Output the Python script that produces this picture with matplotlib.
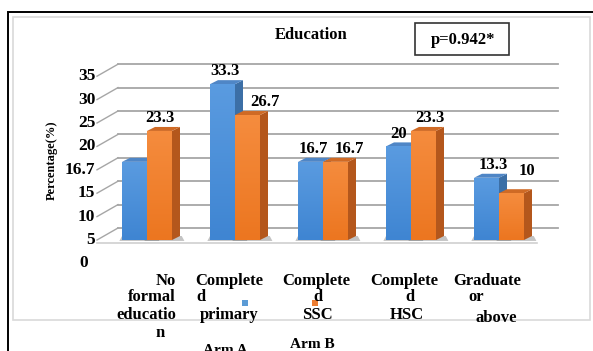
import matplotlib.pyplot as plt
from matplotlib.patches import Polygon, Rectangle
from matplotlib.colors import LinearSegmentedColormap
import numpy as np

# data
categories = ["No\nformal\neducatio\nn", "Complete\nd\nprimary", "Complete\nd\nSSC",
              "Complete\nd\nHSC", "Graduate\nor\nabove"]
arm_a = [16.7, 33.3, 16.7, 20, 13.3]
arm_b = [23.3, 26.7, 16.7, 23.3, 10]
grid_vals = [0, 5, 10, 15, 20, 25, 30, 35]
tick_text = ["5", "10", "15", "16.7", "20", "25", "30", "35"]

W, H = 593, 351
fig = plt.figure(figsize=(W / 100, H / 100), dpi=100)
ax = fig.add_axes([0, 0, 1, 1])
ax.axis("off")

# pixel layout -> data scales
x0_px, step_px = 147, 88          # first group centre, group spacing
y0_px, unit_px = 240, 4.68        # front floor, px per percent
ax.set_xlim(-x0_px / step_px, (W - x0_px) / step_px)
ax.set_ylim(-(H - y0_px) / unit_px, y0_px / unit_px)

def fx(px):
    return px / W

def fy(py):
    return 1 - py / H

serif = "Liberation Serif"
gcol = "#a6a6a6"

# frames
fig.add_artist(Rectangle((fx(8), -0.05), 1, fy(12) + 0.05, transform=fig.transFigure,
                         fill=False, ec="black", lw=1.4))
fig.add_artist(Rectangle((fx(13), fy(320)), fx(590) - fx(13), fy(17) - fy(320),
                         transform=fig.transFigure, fill=False, ec="#d9d9d9", lw=1.2))

# back wall gridlines + diagonals
wdx = 21 / step_px
wdy = 12 / unit_px
xl = (97 - x0_px) / step_px
xr_back = (558 - x0_px) / step_px
xr_front = (537 - x0_px) / step_px
for v in grid_vals:
    ax.plot([xl + wdx, xr_back], [v + wdy, v + wdy], color=gcol, lw=1.3, zorder=1)
    ax.plot([xl, xl + wdx], [v, v + wdy], color=gcol, lw=1.0, zorder=1)
ax.plot([xl, xr_front], [-0.6, -0.6], color="#d0d0d0", lw=1.2, zorder=1)

for v, t in zip(grid_vals, tick_text):
    ax.text(xl - 0.02, v, t, ha="right", va="center", fontsize=12.5, fontweight="bold",
            family=serif, zorder=7)
ax.text(xl - 0.1, -5, "0", ha="right", va="center", fontsize=12.5, fontweight="bold",
        family=serif)

# bars with depth
x = np.arange(len(categories))
bw = 25 / step_px
ddx = 8 / step_px
ddy = 4 / unit_px
styles = [("#5a9be0", "#3f85d2", "#4f86c6", "#3c6fa6"),
          ("#f58c3e", "#ec7620", "#cf6a25", "#b4571c")]

for k, (vals, (ftop, fbot, top, side)) in enumerate(zip([arm_a, arm_b], styles)):
    xs = x - bw if k == 0 else x
    cmap = LinearSegmentedColormap.from_list(f"g{k}", [fbot, ftop])
    for xi, v in zip(xs, vals):
        # floor shadow
        ax.add_patch(Polygon([(xi - 0.03, -0.2), (xi + bw + ddx + 0.05, -0.2),
                              (xi + bw + ddx + 0.02, ddy), (xi, ddy)], closed=True,
                             fc="#555555", alpha=0.35, ec="none", zorder=2))
        ax.add_patch(Polygon([(xi + bw, 0), (xi + bw + ddx, ddy), (xi + bw + ddx, v + ddy),
                              (xi + bw, v)], closed=True, fc=side, ec="none", zorder=3 + k))
        ax.add_patch(Polygon([(xi, v), (xi + ddx, v + ddy), (xi + bw + ddx, v + ddy),
                              (xi + bw, v)], closed=True, fc=top, ec="none", zorder=3 + k))
        rect = Rectangle((xi, 0), bw, v, fc=fbot, ec="none", zorder=3 + k)
        ax.add_patch(rect)
        im = ax.imshow(np.linspace(0, 1, 50).reshape(-1, 1), cmap=cmap, origin="lower",
                       extent=(xi, xi + bw, 0, v), aspect="auto", zorder=3 + k)
        im.set_clip_path(rect)

# data labels (first blue one sits on the axis as "16.7")
lab_kw = dict(ha="center", va="bottom", fontsize=12, fontweight="bold", family=serif, zorder=6)
a_dx = [0, 0.03, 0.03, -0.0, 0.08]
b_dx = [0.0, 0.2, 0.16, 0.07, 0.17]
b_dy = [1.0, 1.0, 1.0, 1.0, 3.0]
for i in range(1, len(categories)):
    ax.text(x[i] - bw / 2 + a_dx[i], arm_a[i] + 1.0, f"{arm_a[i]:g}", **lab_kw)
for i in range(len(categories)):
    ax.text(x[i] + bw / 2 + b_dx[i], arm_b[i] + b_dy[i], f"{arm_b[i]:g}", **lab_kw)

# category labels
cat_kw = dict(fontsize=12, fontweight="bold", family=serif, va="center")
line_y = [281, 297, 315, 333]
pos = [(176, "right"), (195, "left"), (282, "left"), (370, "left"), (453, "left")]
offs = [[0, 0, 0, -11], [0, 1, 5, 0], [0, 31, 20, 0], [0, 35, 20, 0], [0, 15, 22, 0]]
for c, (px, ha), off in zip(categories, pos, offs):
    for j, line in enumerate(c.split("\n")):
        fig.text(fx(px + off[j]), fy(line_y[j] + (3 if j == 2 and px > 400 else 0)), line,
                 ha=ha, **cat_kw)

# legend markers + arm names
fig.add_artist(Rectangle((fx(242), fy(306)), 6 / W, 6 / H, transform=fig.transFigure,
                         fc="#5b9bd5", ec="none"))
fig.add_artist(Rectangle((fx(312), fy(306)), 6 / W, 6 / H, transform=fig.transFigure,
                         fc="#ed7d31", ec="none"))
fig.text(fx(225), fy(350), "Arm A", ha="center", va="center", fontsize=11, fontweight="bold",
         family=serif)
fig.text(fx(312), fy(345), "Arm B", ha="center", va="center", fontsize=11, fontweight="bold",
         family=serif)

# titles
fig.text(fx(311), fy(35), "Education", ha="center", va="center", fontsize=12,
         fontweight="bold", family=serif)
fig.add_artist(Rectangle((fx(415), fy(55)), fx(509) - fx(415), fy(23) - fy(55),
                         transform=fig.transFigure, fill=False, ec="#333333", lw=1.2))
fig.text(fx(463), fy(40), "p=0.942*", ha="center", va="center", fontsize=12,
         fontweight="bold", family=serif)
fig.text(fx(52), fy(160), "Percentage(%)", ha="center", va="center", rotation=90,
         fontsize=9, fontweight="bold", family=serif)

fig.savefig("out.png", dpi=100)
